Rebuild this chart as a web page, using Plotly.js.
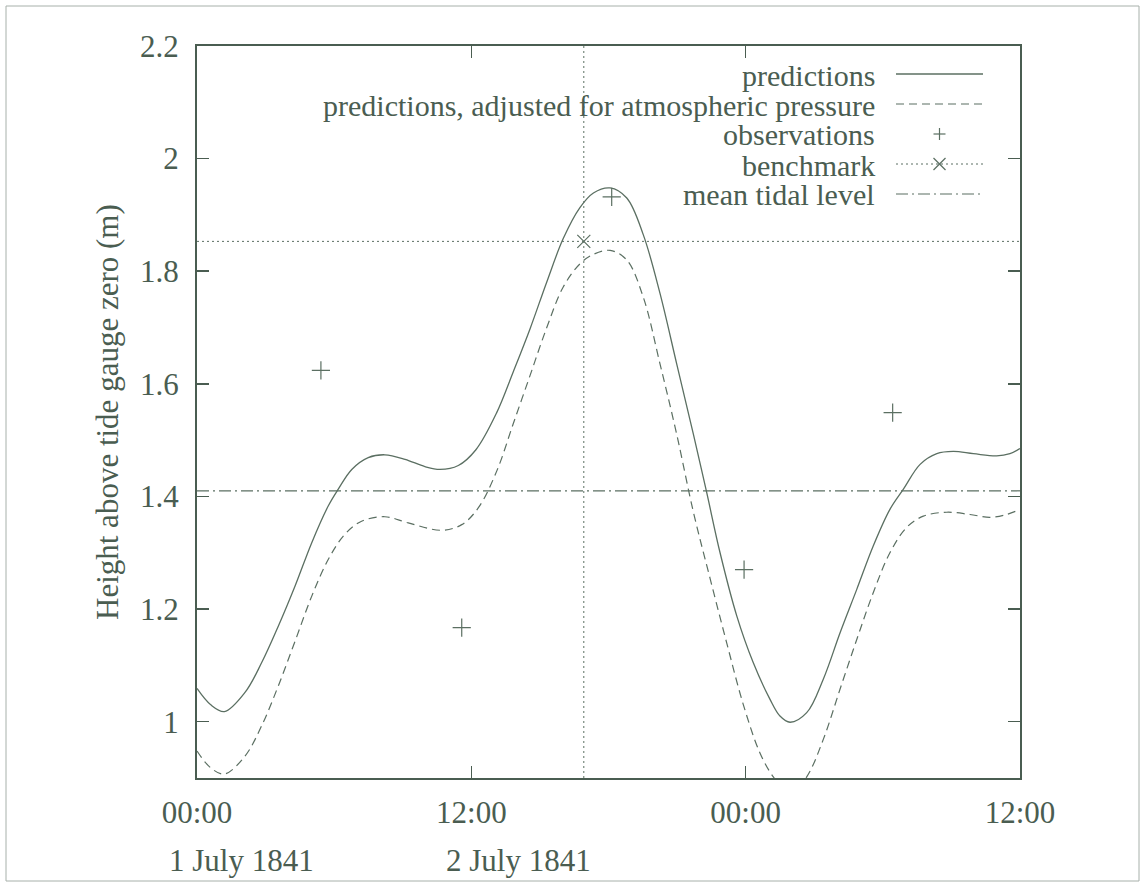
<!DOCTYPE html>
<html>
<head>
<meta charset="utf-8">
<script src="https://cdn.plot.ly/plotly-3.0.1.min.js"></script>
<style>
  html, body { margin: 0; padding: 0; background: #ffffff; }
  #chart { width: 1142px; height: 884px; }
</style>
</head>
<body>
<div id="chart"></div>
<script>
// ---- data (hours since 00:00, 1 July 1841; heights in metres) ----
const predHours = [0, 0.6, 1.2, 2.1, 2.83, 3.56, 4.29, 5.02, 5.74, 6.18, 6.77, 7.49, 8.22, 9.10, 9.97, 10.63, 11.43, 12.2, 13.1, 13.84, 14.57, 15.30, 16.02, 16.75, 17.34, 18.07, 18.80, 19.52, 20.25, 20.98, 21.71, 22.29, 22.88, 23.61, 24.33, 25.06, 25.5, 25.94, 26.67, 27.40, 28.13, 28.86, 29.58, 30.31, 30.90, 31.63, 32.36, 33.08, 33.96, 34.98, 35.56, 36];
const predictions = [1.059, 1.030, 1.018, 1.052, 1.105, 1.170, 1.241, 1.318, 1.383, 1.413, 1.448, 1.469, 1.474, 1.466, 1.453, 1.448, 1.455, 1.483, 1.548, 1.622, 1.698, 1.781, 1.858, 1.913, 1.939, 1.948, 1.930, 1.865, 1.761, 1.636, 1.511, 1.408, 1.300, 1.188, 1.105, 1.040, 1.010, 0.999, 1.016, 1.076, 1.158, 1.235, 1.312, 1.377, 1.413, 1.457, 1.476, 1.480, 1.476, 1.472, 1.476, 1.485];

const adjHours = [0, 0.6, 1.2, 2.1, 2.83, 3.56, 4.29, 5.02, 5.74, 6.47, 7.20, 8.22, 9.24, 10.70, 11.58, 12.31, 13.11, 13.84, 14.57, 15.30, 16.02, 16.75, 17.34, 18.07, 18.80, 19.52, 20.25, 20.98, 21.71, 22.44, 23.17, 23.90, 24.63, 25.21, 25.94, 26.67, 27.40, 28.13, 28.86, 29.58, 30.31, 31.04, 31.77, 32.79, 33.81, 34.69, 35.42, 36];
const adjusted = [0.948, 0.918, 0.907, 0.939, 0.993, 1.064, 1.143, 1.223, 1.288, 1.333, 1.356, 1.364, 1.353, 1.340, 1.350, 1.380, 1.445, 1.530, 1.615, 1.700, 1.772, 1.813, 1.830, 1.837, 1.820, 1.754, 1.636, 1.511, 1.373, 1.255, 1.140, 1.030, 0.944, 0.902, 0.870, 0.902, 0.969, 1.058, 1.146, 1.229, 1.300, 1.345, 1.365, 1.372, 1.368, 1.363, 1.368, 1.377];

const obsHours = [5.42, 11.58, 18.14, 23.93, 30.43];
const observations = [1.624, 1.167, 1.932, 1.270, 1.549];

const benchmarkTime = 16.92;
const benchmarkHeight = 1.853;
const meanTidalLevel = 1.41;

const xRange = [0, 36];
const yRange = [0.9, 2.2];
const xTickVals = [0, 12, 24, 36];
const xTickText = ['00:00', '12:00', '00:00', '12:00'];
const dateLabels = ['1 July 1841', '2 July 1841'];
const legendLabels = ['predictions', 'predictions, adjusted for atmospheric pressure', 'observations', 'benchmark', 'mean tidal level'];
const yTitle = 'Height above tide gauge zero (m)';

// ---- styles ----
const INK = '#4a5d51';
const LINE = '#5b6f62';
const FONT = '"Liberation Serif", "Times New Roman", Times, serif';
const FS = 31;
const LEG_FS = 30;

const traces = [
  { x: predHours, y: predictions, mode: 'lines', line: { color: LINE, width: 1.3, shape: 'spline', smoothing: 1 }, name: legendLabels[0] },
  { x: adjHours, y: adjusted, mode: 'lines', line: { color: LINE, width: 1.2, shape: 'spline', smoothing: 1, dash: '8px,5px' }, name: legendLabels[1] },
  { x: obsHours, y: observations, mode: 'markers', marker: { symbol: 'cross-thin-open', size: 13, color: LINE, line: { color: LINE, width: 1.2 } }, name: legendLabels[2] },
  { x: xRange, y: [benchmarkHeight, benchmarkHeight], mode: 'lines', line: { color: LINE, width: 1, dash: '2px,3px' }, name: 'benchmark level' },
  { x: [benchmarkTime, benchmarkTime], y: yRange, mode: 'lines', line: { color: LINE, width: 1, dash: '2px,3px' }, name: 'benchmark time' },
  { x: [benchmarkTime], y: [benchmarkHeight], mode: 'markers', marker: { symbol: 'x-thin-open', size: 13, color: LINE, line: { color: LINE, width: 1.2 } }, name: legendLabels[3] },
  { x: xRange, y: [meanTidalLevel, meanTidalLevel], mode: 'lines', line: { color: LINE, width: 1.2, dash: '12px,4px,2px,4px' }, name: legendLabels[4] }
];

// ---- custom legend (text right-aligned, sample on the right, as in the original) ----
const plotL = 197, plotR = 1020, plotT = 46, plotB = 778;
const pw = plotR - plotL, ph = plotB - plotT;
const px = v => (v - plotL) / pw;
const py = v => (plotB - v) / ph;

const rowY = [74, 104, 134, 164, 194];
const textRight = 876, sampleL = 896, sampleR = 983, sampleC = 939.5;

const annotations = legendLabels.map((t, i) => ({
  xref: 'paper', yref: 'paper', x: px(textRight), y: py(rowY[i] + 1),
  xanchor: 'right', yanchor: 'middle', text: t, showarrow: false, borderpad: 0,
  font: { family: FONT, size: LEG_FS, color: INK }
}));
const dateCenters = [241, 518];
dateLabels.forEach((t, i) => annotations.push({
  xref: 'paper', yref: 'paper', x: px(dateCenters[i]), y: py(860),
  xanchor: 'center', yanchor: 'middle', text: t, showarrow: false,
  font: { family: FONT, size: FS, color: INK }
}));
annotations.push({
  xref: 'paper', yref: 'paper', x: px(107), y: py(412), textangle: -90,
  xanchor: 'center', yanchor: 'middle', text: yTitle, showarrow: false,
  font: { family: FONT, size: FS, color: INK }
});

const d = 6;
const shapes = [
  { type: 'line', xref: 'paper', yref: 'paper', x0: px(sampleL), x1: px(sampleR), y0: py(rowY[0]), y1: py(rowY[0]), line: { color: LINE, width: 1.3 } },
  { type: 'line', xref: 'paper', yref: 'paper', x0: px(sampleL), x1: px(sampleR), y0: py(rowY[1]), y1: py(rowY[1]), line: { color: LINE, width: 1.2, dash: '8px,5px' } },
  { type: 'line', xref: 'paper', yref: 'paper', x0: px(sampleC - d), x1: px(sampleC + d), y0: py(rowY[2]), y1: py(rowY[2]), line: { color: LINE, width: 1.2 } },
  { type: 'line', xref: 'paper', yref: 'paper', x0: px(sampleC), x1: px(sampleC), y0: py(rowY[2] - d), y1: py(rowY[2] + d), line: { color: LINE, width: 1.2 } },
  { type: 'line', xref: 'paper', yref: 'paper', x0: px(sampleL), x1: px(sampleR), y0: py(rowY[3]), y1: py(rowY[3]), line: { color: LINE, width: 1, dash: '2px,3px' } },
  { type: 'line', xref: 'paper', yref: 'paper', x0: px(sampleC - d), x1: px(sampleC + d), y0: py(rowY[3] - d), y1: py(rowY[3] + d), line: { color: LINE, width: 1.2 } },
  { type: 'line', xref: 'paper', yref: 'paper', x0: px(sampleC - d), x1: px(sampleC + d), y0: py(rowY[3] + d), y1: py(rowY[3] - d), line: { color: LINE, width: 1.2 } },
  { type: 'line', xref: 'paper', yref: 'paper', x0: px(sampleL), x1: px(sampleR), y0: py(rowY[4]), y1: py(rowY[4]), line: { color: LINE, width: 1.2, dash: '12px,4px,2px,4px' } },
  { type: 'rect', xref: 'paper', yref: 'paper', x0: px(6), x1: px(1139), y0: py(6), y1: py(881), line: { color: '#a7b0aa', width: 1 }, layer: 'below' }
];

const layout = {
  width: 1142, height: 884,
  margin: { l: plotL, r: 1142 - plotR, t: plotT, b: 884 - plotB, pad: 0 },
  paper_bgcolor: '#ffffff', plot_bgcolor: '#ffffff',
  showlegend: false,
  font: { family: FONT, size: FS, color: INK },
  xaxis: {
    range: xRange, tickvals: xTickVals, ticktext: xTickText,
    ticks: 'inside', ticklen: 12, tickwidth: 1.5, tickcolor: INK,
    showline: true, linewidth: 2, linecolor: INK, mirror: 'ticks',
    showgrid: false, zeroline: false, ticklabelstandoff: 6,
    tickfont: { family: FONT, size: FS, color: INK }
  },
  yaxis: {
    range: yRange, dtick: 0.2, tick0: 0,
    ticks: 'inside', ticklen: 12, tickwidth: 1.5, tickcolor: INK,
    showline: true, linewidth: 2, linecolor: INK, mirror: 'ticks',
    showgrid: false, zeroline: false, ticklabelstandoff: 10,
    tickfont: { family: FONT, size: FS, color: INK }
  },
  annotations: annotations,
  shapes: shapes
};

Plotly.newPlot('chart', traces, layout, { staticPlot: true, displayModeBar: false });
</script>
</body>
</html>
